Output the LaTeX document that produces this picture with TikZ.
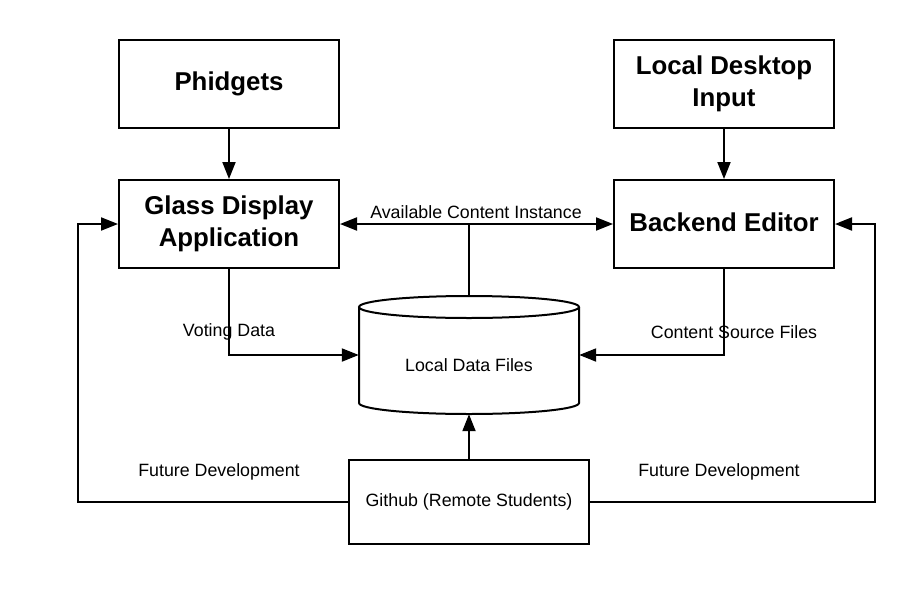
\documentclass[tikz,border=0pt]{standalone}
\usepackage{fontspec}
\setmainfont{Liberation Sans}
\usetikzlibrary{arrows.meta}
\begin{document}
\begin{tikzpicture}[x=1pt,y=-1pt,
  box/.style={draw,line width=2pt,minimum width=220pt,minimum height=88pt,inner sep=0pt,align=center,
    font=\fontsize{25.8}{32}\selectfont\bfseries},
  lbl/.style={font=\fontsize{17.8}{21}\selectfont,inner sep=0pt},
  tip/.tip={Triangle[length=17pt,width=13pt]},
  conn/.style={line width=2pt,-tip},
  wire/.style={line width=2pt}]
\useasboundingbox (0,0) rectangle (916,595);
\fill[white] (0,0) rectangle (916,595);
\node[box] (ph) at (229,84) {\raisebox{3pt}{Phidgets}};
\node[box] (ld) at (724,84) {Local Desktop\\Input};
\node[box] (gd) at (229,224) {Glass Display\\Application};
\node[box] (be) at (724,224) {\raisebox{4pt}{Backend Editor}};
\node[box,minimum width=240pt,minimum height=84pt,font=\fontsize{17.8}{21}\selectfont] (gh) at (469,502) {Github (Remote Students)};
% cylinder
\filldraw[wire,fill=white] (359,307) -- (359,403) arc[start angle=180,end angle=0,x radius=110,y radius=11] -- (579,307);
\draw[wire] (469,307) ellipse[x radius=110,y radius=11];
\node[minimum width=220pt,minimum height=118pt,inner sep=0pt] (db) at (469,355) {};
\node[lbl] (dbl) at (469,365) {Local Data Files};
\coordinate (lc) at (78,0);
\coordinate (rc) at (875,0);
% connectors
\draw[conn] (ph) -- (gd);
\draw[conn] (ld) -- (be);
\draw[wire,tip-tip] (gd.east) -- (be.west);
\draw[wire] (db.north) -- (db.north |- gd.east);
\node[lbl] (aci) at (476,212) {Available Content Instance};
\draw[conn] (gd.south) |- (db.west);
\node[lbl] (vd) at (229,332) {Voting Data};
\draw[conn] (be.south) |- (db.east);
\node[lbl] (csf) at (734,332) {Content Source Files};
\draw[conn] (gh.north) -- (db.south);
\draw[conn] (gh.west) -- (gh.west -| lc) |- (gd.west);
\draw[conn] (gh.east) -- (gh.east -| rc) |- (be.east);
\node[lbl] (fdl) at (219,472) {Future Development};
\node[lbl] (fdr) at (719,472) {Future Development};
\end{tikzpicture}
\end{document}
